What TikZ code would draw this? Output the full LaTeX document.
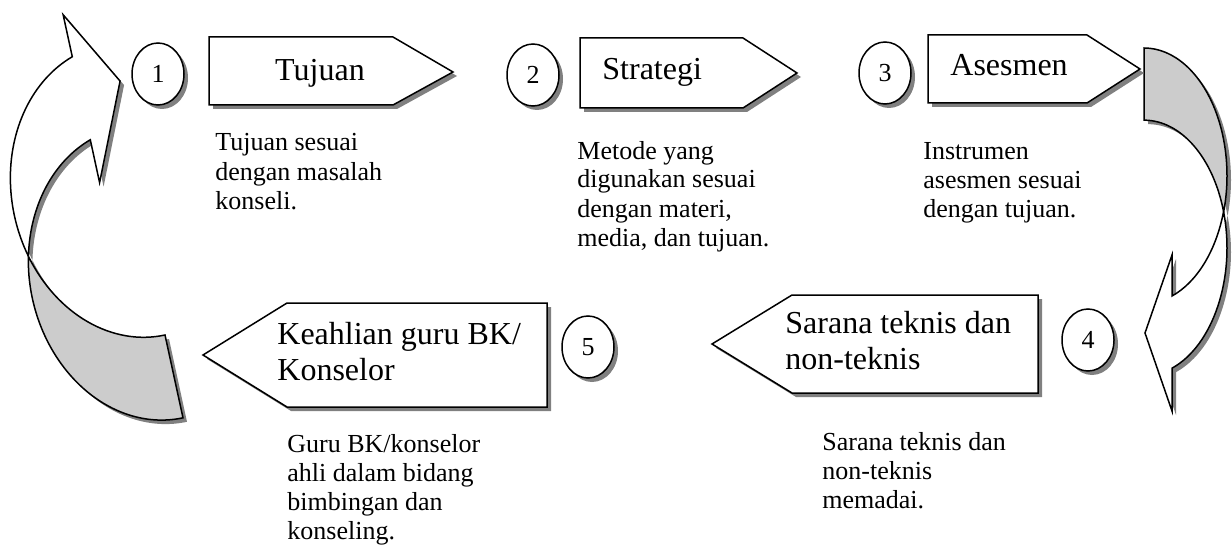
\documentclass[tikz,border=0pt]{standalone}
\usepackage{fontspec}
\setmainfont{Liberation Serif}
\usetikzlibrary{shapes.geometric,shadows}
\tikzset{
  grayshadow/.style={drop shadow={shadow xshift=2pt,shadow yshift=-2pt,fill=black!50,opacity=1}},
  pent/.style={draw,line width=0.75pt,fill=white,grayshadow},
  num/.style={ellipse,draw,line width=0.75pt,fill=white,grayshadow,minimum width=26pt,minimum height=31pt,inner sep=0pt,font=\fontsize{13}{15}\selectfont},
  title/.style={anchor=base west,inner sep=0pt,align=left,font=\fontsize{16}{18}\selectfont},
  note/.style={anchor=base west,inner sep=0pt,align=left,font=\fontsize{13}{14.5}\selectfont},
  back/.style={draw,line width=0.75pt,fill=black!20,grayshadow},
  front/.style={draw,line width=0.75pt,fill=white,grayshadow}
}
\begin{document}
\begin{tikzpicture}[x=0.5pt,y=-0.5pt]
                    \useasboundingbox (0,0) rectangle (1232,556);
                    % curved arrow, left
                    \begin{scope}[shift={(165,335)},x={(-0.488pt,-0.106pt)},y={(0.106pt,-0.488pt)}]
                    \draw[back] (0,0) arc[start angle=90,end angle=16.6,x radius=122,y radius=148.5]
                        arc[start angle=-16.6,end angle=90,x radius=122,y radius=148.5] -- cycle;
                    \draw[front] (116.9,-106.1) arc[start angle=16.6,end angle=-75,x radius=122,y radius=148.5]
                        -- (31.6,-335) -- (-10,-258) -- (31.6,-163) -- (31.6,-206.9)
                        arc[start angle=-75,end angle=-16.6,x radius=122,y radius=148.5] -- cycle;
                    \end{scope}
                    % curved arrow, right
                    \draw[back] (1144,48) arc[start angle=-90,end angle=16.4,x radius=83,y radius=127.8]
                        arc[start angle=-16.4,end angle=-90,x radius=83,y radius=127.8] -- cycle;
                    \draw[front] (1223.6,211.8) arc[start angle=-16.4,end angle=70.2,x radius=83,y radius=127.8]
                        -- (1172,411) -- (1145,333) -- (1172,255) -- (1172,296)
                        arc[start angle=70.2,end angle=16.4,x radius=83,y radius=127.8] -- cycle;
                    % boxes
                    \draw[pent] (209,37) -- (393,37) -- (453,72) -- (393,105) -- (209,105) -- cycle;
                    \draw[pent] (580,38) -- (743,38) -- (797,73) -- (743,108) -- (580,108) -- cycle;
                    \draw[pent] (928,35) -- (1087,35) -- (1140,69) -- (1087,103) -- (928,103) -- cycle;
                    \draw[pent] (712,344) -- (792,295) -- (1038,295) -- (1038,393) -- (792,393) -- cycle;
                    \draw[pent] (203,355) -- (287,303) -- (547,303) -- (547,407) -- (287,407) -- cycle;
                    % (multi-line nodes sit on their last line)
                    \node[title,anchor=base] (tujuan) at (320,81) {Tujuan};
                    \node[title] (strategi) at (602,80) {Strategi};
                    \node[title] (asesmen) at (950,76) {Asesmen};
                    \node[title] (sarana) at (785,369) {Sarana teknis dan\\non-teknis};
                    \node[title] (keahlian) at (277,380) {Keahlian guru BK/\\Konselor};
                    % numbers
                    \node[num] (n1) at (158,74) {1};
                    \node[num] (n2) at (533,75) {2};
                    \node[num] (n3) at (885,73) {3};
                    \node[num] (n4) at (1088,340) {4};
                    \node[num] (n5) at (588,347) {5};
                    % notes
                    \node[note] (k1) at (215,209) {Tujuan sesuai\\dengan masalah\\konseli.};
                    \node[note] (k2) at (577,246) {Metode yang\\digunakan sesuai\\dengan materi,\\media, dan tujuan.};
                    \node[note] (k3) at (923,218) {Instrumen\\asesmen sesuai\\dengan tujuan.};
                    \node[note] (k4) at (822,508) {Sarana teknis dan\\non-teknis\\memadai.};
                    \node[note] (k5) at (287,539) {Guru BK/konselor\\ahli dalam bidang\\bimbingan dan\\konseling.};
                \end{tikzpicture}
\end{document}
